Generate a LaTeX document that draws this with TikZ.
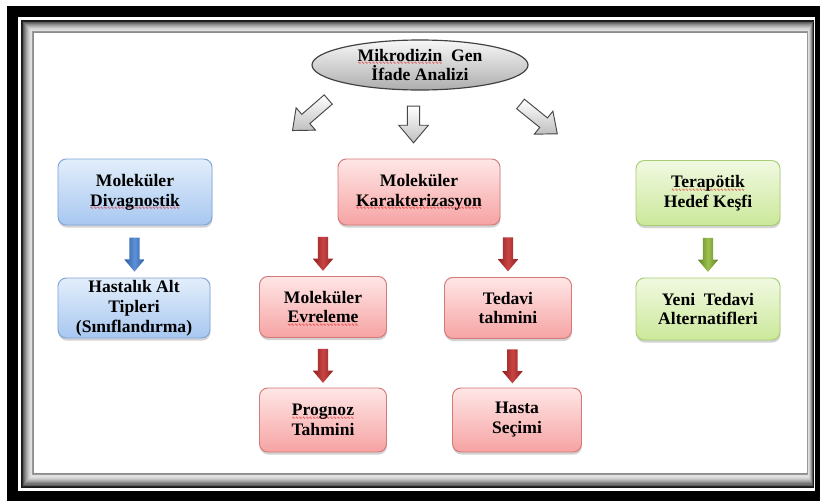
\documentclass[tikz,border=0pt]{standalone}
\usepackage{fontspec}
\setmainfont{Liberation Serif}
\newfontfamily\wavefont{DejaVu Sans}
\usetikzlibrary{shapes.geometric,shapes.arrows,shadows,positioning}

\definecolor{bluetop}{HTML}{E3EEFB}
\definecolor{bluebot}{HTML}{A7C7F0}
\definecolor{blueedge}{HTML}{7FA4D6}
\definecolor{pinktop}{HTML}{FFE6E6}
\definecolor{pinkbot}{HTML}{F6A3A3}
\definecolor{pinkedge}{HTML}{D47878}
\definecolor{greentop}{HTML}{F1F9E1}
\definecolor{greenbot}{HTML}{CBE89A}
\definecolor{greenedge}{HTML}{A8CD72}
\definecolor{wavered}{HTML}{E02020}
\definecolor{bluedark}{HTML}{2F5C9E}
\definecolor{bluelight}{HTML}{5C92D8}
\definecolor{reddark}{HTML}{8E1E1E}
\definecolor{redlight}{HTML}{C84444}
\definecolor{greendark}{HTML}{5F8220}
\definecolor{greenlight}{HTML}{9CC04E}

\newcommand\sq[1]{\leavevmode\setbox0\hbox{#1}%
  \rlap{\raisebox{-3.2pt}[0pt][0pt]{\color{wavered}\wavefont\fontsize{3.5}{3.5}\selectfont
  \hbox to\wd0{\xleaders\hbox{∿}\hfill}}}\box0}

\begin{document}
\begin{tikzpicture}[x=0.03cm, y=-0.03cm,
  box/.style={rounded corners=0.25cm, line width=0.8pt, align=center, inner sep=1pt,
    font=\bfseries\fontsize{15}{17}\selectfont,
    drop shadow={shadow xshift=0.4pt, shadow yshift=-2.2pt, opacity=0.35}},
  bluebox/.style={box, draw=blueedge, top color=bluetop, bottom color=bluebot},
  pinkbox/.style={box, draw=pinkedge, top color=pinktop, bottom color=pinkbot},
  greenbox/.style={box, draw=greenedge, top color=greentop, bottom color=greenbot},
  fat/.style={single arrow, shape border rotate=270, inner sep=0.15cm, minimum height=1.02cm,
    single arrow head extend=0.15cm, single arrow tip angle=80},
  bluearr/.style={fat, left color=bluedark, right color=bluedark, middle color=bluelight},
  redarr/.style={fat, left color=reddark, right color=reddark, middle color=redlight},
  greenarr/.style={fat, left color=greendark, right color=greendark, middle color=greenlight},
  hollow/.style={single arrow, draw=black!72, line width=0.8pt, inner sep=0.17cm, minimum height=1.1cm,
    single arrow head extend=0.26cm, single arrow tip angle=80, top color=white, bottom color=black!25}]
\useasboundingbox (0,0) rectangle (820,500);
\fill[black] (7,6) rectangle (830,510);
\fill[white] (18,17) rectangle (815,491);
\foreach \i/\g in {0/90,1/85,2/65,3/55,4/45,5/38,6/30,7/24,8/18,9/14,10/12,11/40,12/45,13/0}
  \fill[black!\g] (21+\i,20+\i) rectangle ({814-0.55*\i},{488-1.15*\i});

\node[ellipse, draw=black!75, line width=1pt, top color=black!3, bottom color=black!32,
  minimum width=6.48cm, minimum height=1.5cm, inner sep=0pt, align=center,
  font=\bfseries\fontsize{15}{17}\selectfont] (gen) at (420,65) {\sq{Mikrodizin}\ \ Gen\\İfade Analizi};

\node[bluebox, minimum width=4.62cm, minimum height=1.98cm] (div) at (135,192) {Moleküler\\\sq{Divagnostik}};
\node[bluebox, minimum width=4.56cm, minimum height=1.8cm] (alt) at (134,308) {Hastalık Alt\\Tipleri\\(Sınıflandırma)};
\node[pinkbox, minimum width=4.86cm, minimum height=1.98cm] (kar) at (419,192) {Moleküler\\\sq{Karakterizasyon}};
\node[pinkbox, minimum width=3.81cm, minimum height=1.83cm] (evr) at (323,307) {Moleküler\\\sq{Evreleme}};
\node[pinkbox, minimum width=3.81cm, minimum height=1.83cm] (ted) at (508,308) {Tedavi\\tahmini};
\node[pinkbox, minimum width=3.81cm, minimum height=1.92cm] (prg) at (323,420) {\sq{Prognoz}\\Tahmini};
\node[pinkbox, minimum width=3.87cm, minimum height=1.92cm] (has) at (517,420) {Hasta\\Seçimi};
\node[greenbox, minimum width=4.32cm, minimum height=1.95cm] (ter) at (708,193) {\sq{Terapötik}\\Hedef Keşfi};
\node[greenbox, minimum width=4.32cm, minimum height=1.86cm] (yen) at (708,309) {Yeni\ \ Tedavi\\Alternatifleri};

\path (gen.center) -- node[hollow, minimum height=1.42cm, pos=0.375, rotate=-139] (h1) {} (div.center);
\path ([xshift=-0.18cm]gen.center) -- node[hollow, pos=0.44, rotate=-90] (h2) {} ([xshift=-0.18cm]kar.center);
\path (gen.center) -- node[hollow, minimum height=1.42cm, pos=0.403, rotate=-39] (h3) {} (ter.center);

\path (div) -- node[bluearr] (b1) {} (alt);
\path (kar.south -| evr) -- node[redarr] (r1) {} (evr);
\path (kar.south -| ted) -- node[redarr] (r2) {} (ted);
\path (evr) -- node[redarr] (r3) {} (prg);
\path (ted) -- node[redarr] (r4) {} (has);
\path (ter) -- node[greenarr] (g1) {} (yen);
\end{tikzpicture}
\end{document}
